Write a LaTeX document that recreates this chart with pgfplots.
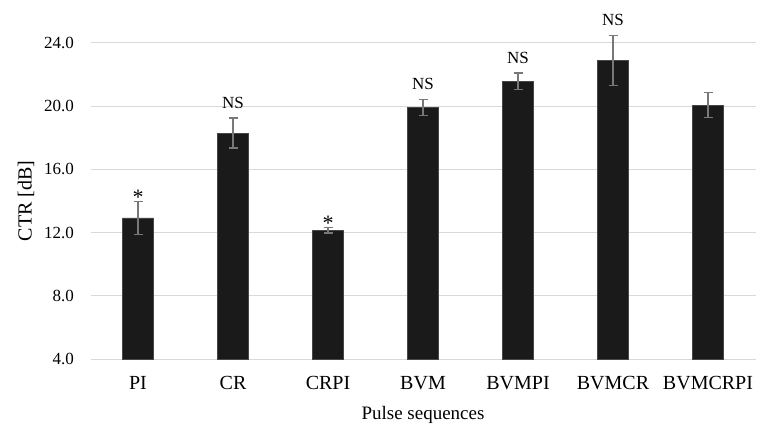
\documentclass[border=0pt]{standalone}
\usepackage{pgfplots}
\pgfplotsset{compat=1.18}
\usepackage{fontspec}
\setmainfont{Liberation Serif}
\definecolor{barfill}{RGB}{26,26,26}
\definecolor{baredge}{RGB}{70,70,70}
\definecolor{gridc}{RGB}{217,217,217}
\definecolor{errc}{RGB}{120,120,120}
\begin{document}
\begin{tikzpicture}
\begin{axis}[
  scale only axis,
  width=665bp, height=316bp,
  xmin=-0.5, xmax=6.5,
  ymin=4, ymax=24,
  ytick={4,8,12,16,20,24},
  xtick={0,1,2,3,4,5,6},
  xticklabels={PI,CR,CRPI,BVM,BVMPI,BVMCR,BVMCRPI},
  yticklabel style={/pgf/number format/fixed,/pgf/number format/fixed zerofill,/pgf/number format/precision=1,/pgf/number format/assume math mode=true,
    font=\fontsize{17bp}{20bp}\selectfont, xshift=-13bp},
  xticklabel style={font=\fontsize{20bp}{24bp}\selectfont, yshift=-14bp},
  ymajorgrids,
  grid style={gridc, line width=1pt},
  axis line style={draw=none},
  major tick length=0pt,
  xtick style={draw=none}, ytick style={draw=none},
  xlabel={Pulse sequences},
  ylabel={CTR [dB]},
  xlabel style={font=\fontsize{19bp}{22bp}\selectfont, yshift=-9bp},
  ylabel style={font=\fontsize{20bp}{24bp}\selectfont},
  ylabel shift=3bp,
  clip=false,
]
\addplot[ybar, bar width=31bp, fill=barfill, draw=baredge, line width=0.8pt,
  error bars/.cd, y dir=both, y explicit,
  error bar style={errc, line width=1.2pt},
  error mark options={rotate=90, errc, mark size=4.5bp, line width=1.2pt}]
  coordinates {
  (0,12.93) +- (0,1.03)
  (1,18.30) +- (0,0.95)
  (2,12.15) +- (0,0.18)
  (3,19.90) +- (0,0.50)
  (4,21.58) +- (0,0.52)
  (5,22.90) +- (0,1.60)
  (6,20.06) +- (0,0.80)
  };
% NS labels
\addplot[draw=none, mark=none, nodes near coords, point meta=explicit symbolic,
  every node near coord/.append style={font=\fontsize{17bp}{20bp}\selectfont, anchor=base, yshift=10bp}]
  coordinates {
  (1,19.25)[NS]
  (3,20.40)[NS]
  (4,22.10)[NS]
  (5,24.50)[NS]
  };
% star labels
\addplot[draw=none, mark=none, nodes near coords, point meta=explicit symbolic,
  every node near coord/.append style={font=\fontsize{22bp}{24bp}\selectfont, anchor=base, yshift=-3bp}]
  coordinates {
  (0,13.96)[*]
  (2,12.33)[*]
  };
\end{axis}
\path[use as bounding box] ([shift={(-90.5bp,-74bp)}]current axis.south west) rectangle ([shift={(2.5bp,43bp)}]current axis.north east);
\end{tikzpicture}
\end{document}
